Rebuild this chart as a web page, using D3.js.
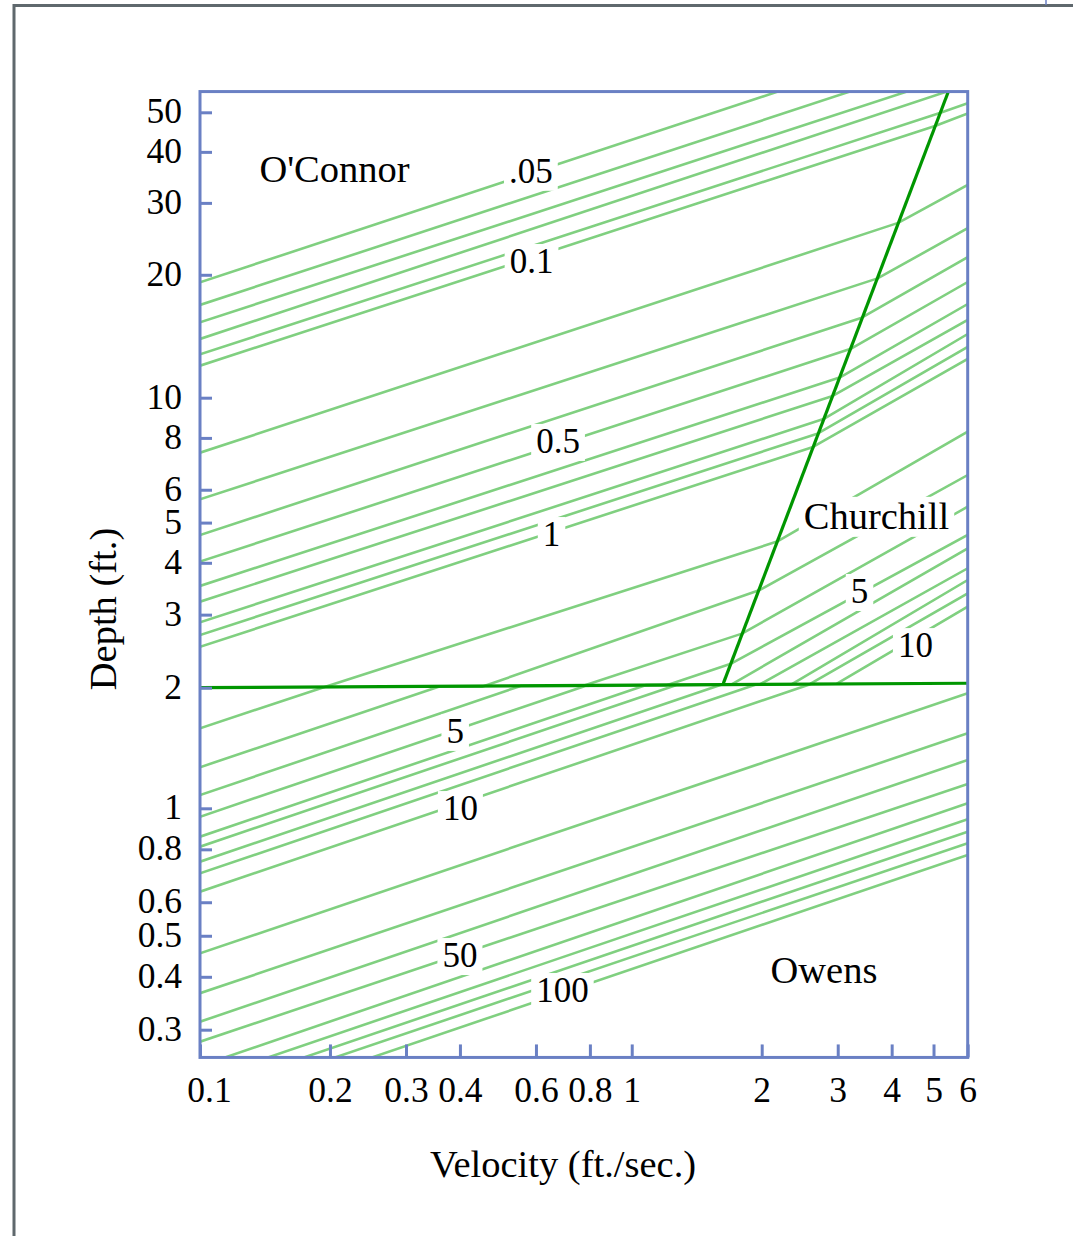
<!DOCTYPE html>
<html><head><meta charset="utf-8">
<script src="https://cdn.jsdelivr.net/npm/d3@7"></script>
<style>body{margin:0;background:#fff}svg{display:block}</style>
</head><body>
<svg id="c" width="1073" height="1236"></svg>
<script>
// ---- axis data ----
const xTicks = [0.1, 0.2, 0.3, 0.4, 0.6, 0.8, 1, 2, 3, 4, 5, 6];
const xTickLabels = ["0.1", "0.2", "0.3", "0.4", "0.6", "0.8", "1", "2", "3", "4", "5", "6"];
const yTicks = [0.3, 0.4, 0.5, 0.6, 0.8, 1, 2, 3, 4, 5, 6, 8, 10, 20, 30, 40, 50];
const yTickLabels = ["0.3", "0.4", "0.5", "0.6", "0.8", "1", "2", "3", "4", "5", "6", "8", "10", "20", "30", "40", "50"];
const xExtent = [0.1, 6];
const yExtent = [0.258, 56.2];

// ---- iso-K lines: [velocity, depth] vertices ----
const oconnorTopLines = [
  {k: 0.05, pts: [[0.1, 19.17], [2.18, 56.2]]},
  {k: 0.06, pts: [[0.1, 16.87], [3.20, 56.2]]},
  {k: 0.07, pts: [[0.1, 15.30], [4.34, 56.2]]},
  {k: 0.08, pts: [[0.1, 13.93], [5.37, 56.2]]},
  {k: 0.09, pts: [[0.1, 12.77], [5.17, 49.8], [6, 52.6]]},
  {k: 0.1,  pts: [[0.1, 11.98], [5.04, 46.3], [6, 49.7]]}
];
const oconnorMidLines = [
  {k: 0.2, pts: [[0.1, 7.368], [4.14, 26.8], [6, 33.2]]},
  {k: 0.3, pts: [[0.1, 5.69], [3.71, 19.6], [6, 26.0]]},
  {k: 0.4, pts: [[0.1, 4.667], [3.41, 15.7], [6, 22.1]]},
  {k: 0.5, pts: [[0.1, 4.026], [3.23, 13.2], [6, 19.2]]},
  {k: 0.6, pts: [[0.1, 3.518], [3.03, 11.2], [6, 16.96]]},
  {k: 0.7, pts: [[0.1, 3.223], [2.92, 10.1], [6, 15.5]]},
  {k: 0.8, pts: [[0.1, 2.875], [2.78, 8.88], [6, 14.32]]},
  {k: 0.9, pts: [[0.1, 2.679], [2.70, 8.20], [6, 13.31]]},
  {k: 1.0, pts: [[0.1, 2.51], [2.63, 7.61], [6, 12.44]]}
];
const crossingLines = [
  {k: 2,  pts: [[0.1, 1.584], [0.192, 2.0], [2.17, 4.5], [6, 8.28]]},
  {k: 3,  pts: [[0.1, 1.266], [0.357, 2.01], [0.45, 2.01], [1.98, 3.44], [6, 6.51]]},
  {k: 4,  pts: [[0.1, 1.079], [0.553, 2.02], [0.77, 2.02], [1.80, 2.70], [6, 5.46]]},
  {k: 5,  pts: [[0.1, 0.955], [0.78, 2.02], [1.2, 2.025], [1.69, 2.28], [6, 4.67]]},
  {k: 6,  pts: [[0.1, 0.857], [1.08, 2.03], [1.70, 2.035], [6, 4.335]]},
  {k: 7,  pts: [[0.1, 0.8115], [1.27, 2.03], [1.98, 2.037], [6, 3.88]]},
  {k: 8,  pts: [[0.1, 0.748], [1.61, 2.034], [2.35, 2.04], [6, 3.636]]},
  {k: 9,  pts: [[0.1, 0.702], [1.94, 2.037], [2.59, 2.042], [6, 3.377]]},
  {k: 10, pts: [[0.1, 0.6353], [2.60, 2.042], [2.98, 2.044], [6, 3.135]]}
];
const owensLines = [
  {k: 20,  pts: [[0.1, 0.4545], [6, 1.937]]},
  {k: 30,  pts: [[0.1, 0.3658], [6, 1.539]]},
  {k: 40,  pts: [[0.1, 0.3133], [6, 1.320]]},
  {k: 50,  pts: [[0.1, 0.2810], [6, 1.150]]},
  {k: 60,  pts: [[0.1143, 0.258], [6, 1.029]]},
  {k: 70,  pts: [[0.1437, 0.258], [6, 0.9419]]},
  {k: 80,  pts: [[0.1741, 0.258], [6, 0.8805]]},
  {k: 90,  pts: [[0.2054, 0.258], [6, 0.8266]]},
  {k: 100, pts: [[0.2502, 0.258], [6, 0.7758]]}
];
// region boundaries
const twoFootLine = [[0.1, 2.0], [6, 2.05]];
const churchillBoundary = [[1.63, 2.049], [5.41, 56.16]];

// ---- annotations (anchored at text baseline centre) ----
const regionLabels = [
  {text: "O'Connor", at: [0.2049, 33.75]},
  {text: "Churchill", at: [3.689, 4.83]},
  {text: "Owens", at: [2.788, 0.387]}
];
const kLabels = [
  {text: ".05", at: [0.584, 33.6]},
  {text: "0.1", at: [0.586, 20.2]},
  {text: "0.5", at: [0.675, 7.36]},
  {text: "1",   at: [0.652, 4.39]},
  {text: "5",   at: [3.37, 3.2]},
  {text: "10",  at: [4.54, 2.37]},
  {text: "5",   at: [0.39, 1.456]},
  {text: "10",  at: [0.401, 0.938]},
  {text: "50",  at: [0.400, 0.4218]},
  {text: "100", at: [0.691, 0.3487]}
];

// ---- drawing ----
const svg = d3.select("#c");
const FONT = "'Liberation Serif','Times New Roman',serif";
const FRAME = "#6a80c4";
const LIGHT = "#80d080";
const DARK = "#009600";

const x = d3.scaleLog().domain(xExtent).range([200, 967.7]);
const y = d3.scaleLog().domain([0.3, 1, 2, 10, 50]).range([1029.7, 808.3, 687.7, 397.7, 112.3]);

const x0 = x(xExtent[0]), x1 = x(xExtent[1]);
const yT = y(yExtent[1]), yB = y(yExtent[0]);

svg.append("rect").attr("width", 1073).attr("height", 1236).attr("fill", "#fff");
// page border
svg.append("path").attr("d", `M14,1236V5.5H1073`).attr("fill", "none")
  .attr("stroke", "#5f686d").attr("stroke-width", 3);
svg.append("line").attr("x1", 1046).attr("x2", 1046).attr("y1", 0).attr("y2", 5)
  .attr("stroke", FRAME).attr("stroke-width", 1.5);

svg.append("defs").append("clipPath").attr("id", "plotclip")
  .append("rect").attr("x", x0).attr("y", yT).attr("width", x1 - x0).attr("height", yB - yT);

const line = d3.line().x(d => x(d[0])).y(d => y(d[1]));
const plot = svg.append("g").attr("clip-path", "url(#plotclip)");

const allIso = [].concat(oconnorTopLines, oconnorMidLines, crossingLines, owensLines);
plot.selectAll("path.iso").data(allIso).join("path")
  .attr("class", "iso").attr("d", d => line(d.pts))
  .attr("fill", "none").attr("stroke", LIGHT).attr("stroke-width", 2.6)
  .attr("stroke-linejoin", "round");

// labels with white knock-out boxes
const labG = svg.append("g");
const bdG = svg.append("g").attr("clip-path", "url(#plotclip)");
const txtG = svg.append("g");
function addLabel(d, size) {
  const t = txtG.append("text").attr("x", x(d.at[0])).attr("y", y(d.at[1]))
    .attr("text-anchor", "middle").attr("font-family", FONT).attr("font-size", size)
    .attr("fill", "#000").text(d.text);
  const b = t.node().getBBox();
  labG.append("rect").attr("x", b.x - 5).attr("y", b.y + 2).attr("width", b.width + 10)
    .attr("height", b.height - 2).attr("fill", "#fff");
}
regionLabels.forEach(d => addLabel(d, 38.5));
kLabels.forEach(d => addLabel(d, 35));

bdG.append("path").attr("d", line(twoFootLine)).attr("fill", "none")
  .attr("stroke", DARK).attr("stroke-width", 3.2);
bdG.append("path").attr("d", line(churchillBoundary)).attr("fill", "none")
  .attr("stroke", DARK).attr("stroke-width", 3.2);

// frame
svg.append("rect").attr("x", x0).attr("y", yT).attr("width", x1 - x0).attr("height", yB - yT)
  .attr("fill", "none").attr("stroke", FRAME).attr("stroke-width", 3);

// axes
const yAxis = d3.axisLeft(y).tickValues(yTicks).tickFormat((d, i) => yTickLabels[i])
  .tickSizeInner(-12).tickSizeOuter(0).tickPadding(18);
const gy = svg.append("g").attr("transform", `translate(${x0},0)`).call(yAxis);
const xAxis = d3.axisBottom(x).tickValues(xTicks).tickFormat((d, i) => xTickLabels[i])
  .tickSizeInner(-13).tickSizeOuter(0).tickPadding(19);
const gx = svg.append("g").attr("transform", `translate(0,${yB})`).call(xAxis);
[gx, gy].forEach(g => {
  g.select(".domain").remove();
  g.selectAll(".tick line").attr("stroke", FRAME).attr("stroke-width", 3);
  g.selectAll(".tick text").attr("font-family", FONT).attr("font-size", 35.5).attr("fill", "#000");
});
gy.selectAll(".tick text").attr("dy", "0.3em");
gx.selectAll(".tick text").filter((d, i) => i === 0).attr("dx", 9);

// axis titles
svg.append("text").attr("x", 563).attr("y", 1176.5).attr("text-anchor", "middle")
  .attr("font-family", FONT).attr("font-size", 38.5).text("Velocity (ft./sec.)");
svg.append("text").attr("transform", "translate(116,609) rotate(-90)").attr("text-anchor", "middle")
  .attr("font-family", FONT).attr("font-size", 38.5).text("Depth (ft.)");
</script>
</body></html>
